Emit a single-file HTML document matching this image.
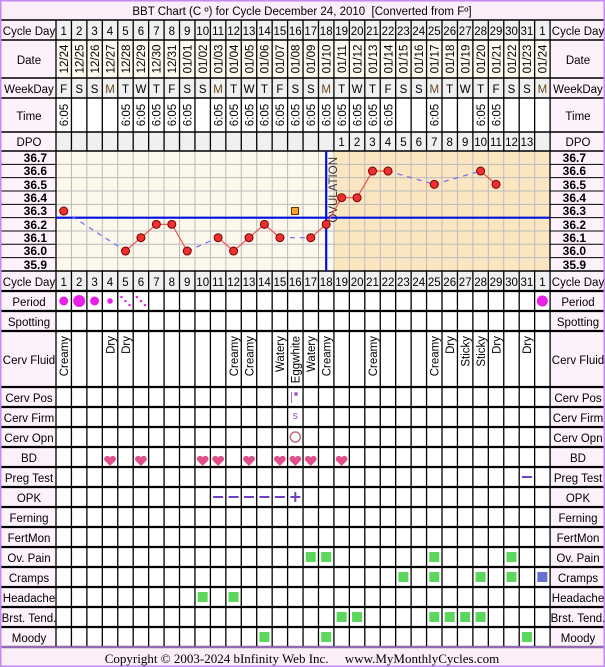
<!DOCTYPE html>
<html><head><meta charset="utf-8"><style>
html,body{margin:0;padding:0;background:#fff}
svg{display:block}
text{font-family:"Liberation Sans",sans-serif;font-size:11.5px;fill:#000}
.l{text-anchor:middle}
.v{font-size:11.5px}
.b{font-weight:bold;font-size:12px}
</style></head><body>
<svg id="s" width="605" height="667" xmlns="http://www.w3.org/2000/svg">
<rect x="0" y="0" width="605" height="667" fill="#fff"/>
<g id="bg"></g>
<g id="grid"></g>
<g id="marks"></g>
<g id="txt">
<text x="302" y="15" class="l">BBT Chart (C º) for Cycle December 24, 2010&#160;&#160;[Converted from Fº]</text>
<text x="29" y="35" class="l">Cycle Day</text>
<text x="29" y="64" class="l">Date</text>
<text x="29" y="93" class="l">WeekDay</text>
<text x="29" y="120" class="l">Time</text>
<text x="29" y="146" class="l">DPO</text>
<text x="29" y="286" class="l">Cycle Day</text>
<text x="29" y="306" class="l">Period</text>
<text x="29" y="326" class="l">Spotting</text>
<text x="29" y="364" class="l">Cerv Fluid</text>
<text x="29" y="402" class="l">Cerv Pos</text>
<text x="29" y="422" class="l">Cerv Firm</text>
<text x="29" y="442" class="l">Cerv Opn</text>
<text x="29" y="462" class="l">BD</text>
<text x="29" y="482" class="l">Preg Test</text>
<text x="29" y="502" class="l">OPK</text>
<text x="29" y="522" class="l">Ferning</text>
<text x="29" y="542" class="l">FertMon</text>
<text x="29" y="562" class="l">Ov. Pain</text>
<text x="29" y="582" class="l">Cramps</text>
<text x="29" y="602" class="l">Headache</text>
<text x="29" y="622" class="l">Brst. Tend.</text>
<text x="29" y="642" class="l">Moody</text>
<text x="578" y="35" class="l">Cycle Day</text>
<text x="578" y="64" class="l">Date</text>
<text x="578" y="93" class="l">WeekDay</text>
<text x="578" y="120" class="l">Time</text>
<text x="578" y="146" class="l">DPO</text>
<text x="578" y="286" class="l">Cycle Day</text>
<text x="578" y="306" class="l">Period</text>
<text x="578" y="326" class="l">Spotting</text>
<text x="578" y="364" class="l">Cerv Fluid</text>
<text x="578" y="402" class="l">Cerv Pos</text>
<text x="578" y="422" class="l">Cerv Firm</text>
<text x="578" y="442" class="l">Cerv Opn</text>
<text x="578" y="462" class="l">BD</text>
<text x="578" y="482" class="l">Preg Test</text>
<text x="578" y="502" class="l">OPK</text>
<text x="578" y="522" class="l">Ferning</text>
<text x="578" y="542" class="l">FertMon</text>
<text x="578" y="562" class="l">Ov. Pain</text>
<text x="578" y="582" class="l">Cramps</text>
<text x="578" y="602" class="l">Headache</text>
<text x="578" y="622" class="l">Brst. Tend.</text>
<text x="578" y="642" class="l">Moody</text>
<g>
<text x="47" y="162" text-anchor="end" class="b">36.7</text>
<text x="47" y="175" text-anchor="end" class="b">36.6</text>
<text x="47" y="189" text-anchor="end" class="b">36.5</text>
<text x="47" y="202" text-anchor="end" class="b">36.4</text>
<text x="47" y="215" text-anchor="end" class="b">36.3</text>
<text x="47" y="229" text-anchor="end" class="b">36.2</text>
<text x="47" y="242" text-anchor="end" class="b">36.1</text>
<text x="47" y="255" text-anchor="end" class="b">36.0</text>
<text x="47" y="269" text-anchor="end" class="b">35.9</text>
<text x="586" y="162" text-anchor="end" class="b">36.7</text>
<text x="586" y="175" text-anchor="end" class="b">36.6</text>
<text x="586" y="189" text-anchor="end" class="b">36.5</text>
<text x="586" y="202" text-anchor="end" class="b">36.4</text>
<text x="586" y="215" text-anchor="end" class="b">36.3</text>
<text x="586" y="229" text-anchor="end" class="b">36.2</text>
<text x="586" y="242" text-anchor="end" class="b">36.1</text>
<text x="586" y="255" text-anchor="end" class="b">36.0</text>
<text x="586" y="269" text-anchor="end" class="b">35.9</text>
</g>
<g>
<text x="63.7" y="35" class="l">1</text><text x="79.2" y="35" class="l">2</text><text x="94.6" y="35" class="l">3</text><text x="110" y="35" class="l">4</text><text x="125.5" y="35" class="l">5</text><text x="140.9" y="35" class="l">6</text><text x="156.4" y="35" class="l">7</text><text x="171.8" y="35" class="l">8</text><text x="187.2" y="35" class="l">9</text><text x="202.7" y="35" class="l">10</text><text x="218.1" y="35" class="l">11</text><text x="233.6" y="35" class="l">12</text><text x="249" y="35" class="l">13</text><text x="264.4" y="35" class="l">14</text><text x="279.9" y="35" class="l">15</text><text x="295.3" y="35" class="l">16</text><text x="310.8" y="35" class="l">17</text><text x="326.2" y="35" class="l">18</text><text x="341.6" y="35" class="l">19</text><text x="357.1" y="35" class="l">20</text><text x="372.5" y="35" class="l">21</text><text x="388" y="35" class="l">22</text><text x="403.4" y="35" class="l">23</text><text x="418.8" y="35" class="l">24</text><text x="434.3" y="35" class="l">25</text><text x="449.7" y="35" class="l">26</text><text x="465.2" y="35" class="l">27</text><text x="480.6" y="35" class="l">28</text><text x="496" y="35" class="l">29</text><text x="511.5" y="35" class="l">30</text><text x="526.9" y="35" class="l">31</text><text x="542.4" y="35" class="l">1</text>
<text x="63.7" y="286" class="l">1</text><text x="79.2" y="286" class="l">2</text><text x="94.6" y="286" class="l">3</text><text x="110" y="286" class="l">4</text><text x="125.5" y="286" class="l">5</text><text x="140.9" y="286" class="l">6</text><text x="156.4" y="286" class="l">7</text><text x="171.8" y="286" class="l">8</text><text x="187.2" y="286" class="l">9</text><text x="202.7" y="286" class="l">10</text><text x="218.1" y="286" class="l">11</text><text x="233.6" y="286" class="l">12</text><text x="249" y="286" class="l">13</text><text x="264.4" y="286" class="l">14</text><text x="279.9" y="286" class="l">15</text><text x="295.3" y="286" class="l">16</text><text x="310.8" y="286" class="l">17</text><text x="326.2" y="286" class="l">18</text><text x="341.6" y="286" class="l">19</text><text x="357.1" y="286" class="l">20</text><text x="372.5" y="286" class="l">21</text><text x="388" y="286" class="l">22</text><text x="403.4" y="286" class="l">23</text><text x="418.8" y="286" class="l">24</text><text x="434.3" y="286" class="l">25</text><text x="449.7" y="286" class="l">26</text><text x="465.2" y="286" class="l">27</text><text x="480.6" y="286" class="l">28</text><text x="496" y="286" class="l">29</text><text x="511.5" y="286" class="l">30</text><text x="526.9" y="286" class="l">31</text><text x="542.4" y="286" class="l">1</text>
<text x="63.7" y="93" class="l">F</text><text x="79.2" y="93" class="l">S</text><text x="94.6" y="93" class="l">S</text><text x="110" y="93" class="l" style="fill:#6a4a20">M</text><text x="125.5" y="93" class="l">T</text><text x="140.9" y="93" class="l">W</text><text x="156.4" y="93" class="l">T</text><text x="171.8" y="93" class="l">F</text><text x="187.2" y="93" class="l">S</text><text x="202.7" y="93" class="l">S</text><text x="218.1" y="93" class="l" style="fill:#6a4a20">M</text><text x="233.6" y="93" class="l">T</text><text x="249" y="93" class="l">W</text><text x="264.4" y="93" class="l">T</text><text x="279.9" y="93" class="l">F</text><text x="295.3" y="93" class="l">S</text><text x="310.8" y="93" class="l">S</text><text x="326.2" y="93" class="l" style="fill:#6a4a20">M</text><text x="341.6" y="93" class="l">T</text><text x="357.1" y="93" class="l">W</text><text x="372.5" y="93" class="l">T</text><text x="388" y="93" class="l">F</text><text x="403.4" y="93" class="l">S</text><text x="418.8" y="93" class="l">S</text><text x="434.3" y="93" class="l" style="fill:#6a4a20">M</text><text x="449.7" y="93" class="l">T</text><text x="465.2" y="93" class="l">W</text><text x="480.6" y="93" class="l">T</text><text x="496" y="93" class="l">F</text><text x="511.5" y="93" class="l">S</text><text x="526.9" y="93" class="l">S</text><text x="542.4" y="93" class="l" style="fill:#6a4a20">M</text>
<text x="341.6" y="146" class="l">1</text><text x="357.1" y="146" class="l">2</text><text x="372.5" y="146" class="l">3</text><text x="388" y="146" class="l">4</text><text x="403.4" y="146" class="l">5</text><text x="418.8" y="146" class="l">6</text><text x="434.3" y="146" class="l">7</text><text x="449.7" y="146" class="l">8</text><text x="465.2" y="146" class="l">9</text><text x="480.6" y="146" class="l">10</text><text x="496" y="146" class="l">11</text><text x="511.5" y="146" class="l">12</text><text x="526.9" y="146" class="l">13</text>
</g>
<g>
<text class="v" text-anchor="middle" transform="translate(68,59) rotate(-90)">12/24</text>
<text class="v" text-anchor="middle" transform="translate(83.5,59) rotate(-90)">12/25</text>
<text class="v" text-anchor="middle" transform="translate(98.9,59) rotate(-90)">12/26</text>
<text class="v" text-anchor="middle" transform="translate(114.3,59) rotate(-90)">12/27</text>
<text class="v" text-anchor="middle" transform="translate(129.8,59) rotate(-90)">12/28</text>
<text class="v" text-anchor="middle" transform="translate(145.2,59) rotate(-90)">12/29</text>
<text class="v" text-anchor="middle" transform="translate(160.7,59) rotate(-90)">12/30</text>
<text class="v" text-anchor="middle" transform="translate(176.1,59) rotate(-90)">12/31</text>
<text class="v" text-anchor="middle" transform="translate(191.5,59) rotate(-90)">01/01</text>
<text class="v" text-anchor="middle" transform="translate(207,59) rotate(-90)">01/02</text>
<text class="v" text-anchor="middle" transform="translate(222.4,59) rotate(-90)">01/03</text>
<text class="v" text-anchor="middle" transform="translate(237.9,59) rotate(-90)">01/04</text>
<text class="v" text-anchor="middle" transform="translate(253.3,59) rotate(-90)">01/05</text>
<text class="v" text-anchor="middle" transform="translate(268.7,59) rotate(-90)">01/06</text>
<text class="v" text-anchor="middle" transform="translate(284.2,59) rotate(-90)">01/07</text>
<text class="v" text-anchor="middle" transform="translate(299.6,59) rotate(-90)">01/08</text>
<text class="v" text-anchor="middle" transform="translate(315.1,59) rotate(-90)">01/09</text>
<text class="v" text-anchor="middle" transform="translate(330.5,59) rotate(-90)">01/10</text>
<text class="v" text-anchor="middle" transform="translate(345.9,59) rotate(-90)">01/11</text>
<text class="v" text-anchor="middle" transform="translate(361.4,59) rotate(-90)">01/12</text>
<text class="v" text-anchor="middle" transform="translate(376.8,59) rotate(-90)">01/13</text>
<text class="v" text-anchor="middle" transform="translate(392.3,59) rotate(-90)">01/14</text>
<text class="v" text-anchor="middle" transform="translate(407.7,59) rotate(-90)">01/15</text>
<text class="v" text-anchor="middle" transform="translate(423.1,59) rotate(-90)">01/16</text>
<text class="v" text-anchor="middle" transform="translate(438.6,59) rotate(-90)">01/17</text>
<text class="v" text-anchor="middle" transform="translate(454,59) rotate(-90)">01/18</text>
<text class="v" text-anchor="middle" transform="translate(469.5,59) rotate(-90)">01/19</text>
<text class="v" text-anchor="middle" transform="translate(484.9,59) rotate(-90)">01/20</text>
<text class="v" text-anchor="middle" transform="translate(500.3,59) rotate(-90)">01/21</text>
<text class="v" text-anchor="middle" transform="translate(515.8,59) rotate(-90)">01/22</text>
<text class="v" text-anchor="middle" transform="translate(531.2,59) rotate(-90)">01/23</text>
<text class="v" text-anchor="middle" transform="translate(546.7,59) rotate(-90)">01/24</text>
<text class="v" text-anchor="middle" transform="translate(68,115) rotate(-90)">6:05</text>
<text class="v" text-anchor="middle" transform="translate(129.8,115) rotate(-90)">6:05</text>
<text class="v" text-anchor="middle" transform="translate(145.2,115) rotate(-90)">6:05</text>
<text class="v" text-anchor="middle" transform="translate(160.7,115) rotate(-90)">6:05</text>
<text class="v" text-anchor="middle" transform="translate(176.1,115) rotate(-90)">6:05</text>
<text class="v" text-anchor="middle" transform="translate(191.5,115) rotate(-90)">6:05</text>
<text class="v" text-anchor="middle" transform="translate(222.4,115) rotate(-90)">6:05</text>
<text class="v" text-anchor="middle" transform="translate(237.9,115) rotate(-90)">6:05</text>
<text class="v" text-anchor="middle" transform="translate(253.3,115) rotate(-90)">6:05</text>
<text class="v" text-anchor="middle" transform="translate(268.7,115) rotate(-90)">6:05</text>
<text class="v" text-anchor="middle" transform="translate(284.2,115) rotate(-90)">6:05</text>
<text class="v" text-anchor="middle" transform="translate(299.6,115) rotate(-90)">6:05</text>
<text class="v" text-anchor="middle" transform="translate(315.1,115) rotate(-90)">6:05</text>
<text class="v" text-anchor="middle" transform="translate(330.5,115) rotate(-90)">6:05</text>
<text class="v" text-anchor="middle" transform="translate(345.9,115) rotate(-90)">6:05</text>
<text class="v" text-anchor="middle" transform="translate(361.4,115) rotate(-90)">6:05</text>
<text class="v" text-anchor="middle" transform="translate(376.8,115) rotate(-90)">6:05</text>
<text class="v" text-anchor="middle" transform="translate(392.3,115) rotate(-90)">6:05</text>
<text class="v" text-anchor="middle" transform="translate(438.6,115) rotate(-90)">6:05</text>
<text class="v" text-anchor="middle" transform="translate(484.9,115) rotate(-90)">6:05</text>
<text class="v" text-anchor="middle" transform="translate(500.3,115) rotate(-90)">6:05</text>
<text class="v" text-anchor="end" transform="translate(68,336) rotate(-90)">Creamy</text>
<text class="v" text-anchor="end" transform="translate(114.3,336) rotate(-90)">Dry</text>
<text class="v" text-anchor="end" transform="translate(129.8,336) rotate(-90)">Dry</text>
<text class="v" text-anchor="end" transform="translate(237.9,336) rotate(-90)">Creamy</text>
<text class="v" text-anchor="end" transform="translate(253.3,336) rotate(-90)">Creamy</text>
<text class="v" text-anchor="end" transform="translate(284.2,336) rotate(-90)">Watery</text>
<text class="v" text-anchor="end" transform="translate(299.6,336) rotate(-90)">Eggwhite</text>
<text class="v" text-anchor="end" transform="translate(315.1,336) rotate(-90)">Watery</text>
<text class="v" text-anchor="end" transform="translate(330.5,336) rotate(-90)">Creamy</text>
<text class="v" text-anchor="end" transform="translate(376.8,336) rotate(-90)">Creamy</text>
<text class="v" text-anchor="end" transform="translate(438.6,336) rotate(-90)">Creamy</text>
<text class="v" text-anchor="end" transform="translate(454,336) rotate(-90)">Dry</text>
<text class="v" text-anchor="end" transform="translate(469.5,336) rotate(-90)">Sticky</text>
<text class="v" text-anchor="end" transform="translate(484.9,336) rotate(-90)">Sticky</text>
<text class="v" text-anchor="end" transform="translate(500.3,336) rotate(-90)">Dry</text>
<text class="v" text-anchor="end" transform="translate(531.2,336) rotate(-90)">Dry</text>
</g>
<text class="v" text-anchor="end" transform="translate(337,157) rotate(-90)" style="fill:#333">OVULATION</text>
<text x="295.3" y="419" class="l" style="fill:#a060d0;font-size:11px">s</text>
<text x="302" y="663" class="l" style="font-family:'Liberation Serif',serif;font-size:13px">Copyright © 2003-2024 bInfinity Web Inc.&#160;&#160;&#160;&#160;&#160;www.MyMonthlyCycles.com</text>
</g>
</svg>
<script>
(function(){
var NS="http://www.w3.org/2000/svg";
function el(p,t,a){var e=document.createElementNS(NS,t);for(var k in a)e.setAttribute(k,a[k]);document.getElementById(p).appendChild(e);return e;}
var x0=56,cw=15.44,xr=550;
function cx(i){return x0+(i-0.5)*cw;}
function yt(t){return 157.7+(36.7-t)*133.33;}
el("bg","rect",{x:0,y:0,width:605,height:667,fill:"#fff"});
el("bg","rect",{x:1,y:1,width:603,height:19,fill:"#fbeef8"});
el("bg","rect",{x:1,y:647,width:603,height:19,fill:"#fbeef8"});
var pink="#fdf2fb";
el("bg","rect",{x:1,y:20,width:55,height:627,fill:pink});
el("bg","rect",{x:550,y:20,width:54,height:627,fill:pink});
el("bg","rect",{x:56,y:20,width:494,height:20,fill:"#f0f0f0"});
el("bg","rect",{x:56,y:40,width:494,height:38,fill:"#fdf9ee"});
el("bg","rect",{x:56,y:78,width:494,height:20,fill:"#f0f0f0"});
el("bg","rect",{x:56,y:132,width:494,height:19,fill:"#f0f0f0"});
el("bg","rect",{x:56,y:271,width:494,height:20,fill:"#f0f0f0"});
el("bg","rect",{x:56,y:151,width:278,height:120,fill:"#fdf8ec"});
el("bg","rect",{x:334,y:151,width:216,height:120,fill:"#fce6c2"});
for(var k=1;k<32;k++){var x=x0+k*cw;el("grid","line",{x1:x,y1:151,x2:x,y2:271,stroke:"#bbb","stroke-width":1});}
for(var r=1;r<9;r++){var y=151+r*13.33;el("grid","line",{x1:x0,y1:y,x2:xr,y2:y,stroke:"#bbb","stroke-width":1});
 el("grid","line",{x1:1,y1:y,x2:56,y2:y,stroke:"#000","stroke-width":1});el("grid","line",{x1:550,y1:y,x2:604,y2:y,stroke:"#000","stroke-width":1});}
var rows=[20,40,78,98,132,151,271,291,311,331,387,407,427,447,467,487,507,527,547,567,587,607,627,647];
rows.forEach(function(y){el("grid","line",{x1:1,y1:y,x2:604,y2:y,stroke:"#000","stroke-width":(y>=291?2.2:1.5)});});
for(var k=0;k<=32;k++){var x=x0+k*cw;
 el("grid","line",{x1:x,y1:20,x2:x,y2:151,stroke:"#000","stroke-width":1.3});
 el("grid","line",{x1:x,y1:271,x2:x,y2:647,stroke:"#000","stroke-width":1.3});}
el("grid","line",{x1:56,y1:151,x2:56,y2:271,stroke:"#000","stroke-width":1.3});
el("grid","line",{x1:550,y1:151,x2:550,y2:271,stroke:"#000","stroke-width":1.3});
el("grid","rect",{x:0.75,y:0.75,width:603.5,height:665.5,fill:"none",stroke:"#c58af0","stroke-width":1.5});
el("grid","line",{x1:1,y1:647,x2:604,y2:647,stroke:"#c58af0","stroke-width":1.5});
el("marks","line",{x1:56,y1:217.7,x2:550,y2:217.7,stroke:"#0010e0","stroke-width":2.2});
el("marks","line",{x1:326.2,y1:151,x2:326.2,y2:271,stroke:"#0010e0","stroke-width":2.2});
var T={1:36.3,5:36.0,6:36.1,7:36.2,8:36.2,9:36.0,11:36.1,12:36.0,13:36.1,14:36.2,15:36.1,17:36.1,18:36.2,19:36.4,20:36.4,21:36.6,22:36.6,25:36.5,28:36.6,29:36.5};
var days=Object.keys(T).map(Number).sort(function(a,b){return a-b});
for(var i=0;i<days.length-1;i++){var a=days[i],b=days[i+1];
 var o={x1:cx(a),y1:yt(T[a]),x2:cx(b),y2:yt(T[b]),stroke:(b-a==1?"#f05050":"#6a6af0"),"stroke-width":1.2};
 if(b-a>1)o["stroke-dasharray"]="5,5";el("marks","line",o);}
days.forEach(function(d){el("marks","circle",{cx:cx(d),cy:yt(T[d]),r:4,fill:"#f03030",stroke:"#700","stroke-width":1});});
el("marks","rect",{x:291.5,y:207.5,width:7,height:7,fill:"#f8a030",stroke:"#703000","stroke-width":1});
[[1,4.5],[2,6],[3,4.5],[4,2.8],[32,5.5]].forEach(function(p){el("marks","circle",{cx:cx(p[0]),cy:301,r:p[1],fill:"#e820e8"});});
[5,6].forEach(function(d){[[-4,-4],[0,0],[4,4]].forEach(function(q){el("marks","circle",{cx:cx(d)+q[0],cy:301+q[1],r:1.3,fill:"#e030e0"});});});
el("marks","line",{x1:291.5,y1:392,x2:291.5,y2:403,stroke:"#a070d0","stroke-width":1});
el("marks","circle",{cx:296,cy:394,r:2,fill:"#a070d0"});
el("marks","circle",{cx:295.3,cy:437,r:5,fill:"none",stroke:"#c07080","stroke-width":1.5});
[4,6,10,11,13,15,16,17,19].forEach(function(d){var x=cx(d),y=457;
 el("marks","path",{d:"M"+x+" "+(y+9)+" L"+(x-5.5)+" "+(y+3.5)+" A2.9 2.9 0 0 1 "+x+" "+(y+0.5)+" A2.9 2.9 0 0 1 "+(x+5.5)+" "+(y+3.5)+" Z",fill:"#e0508a"});});
el("marks","rect",{x:cx(31)-5,y:476,width:10,height:2,fill:"#7040c0"});
[11,12,13,14,15,16].forEach(function(d){el("marks","rect",{x:cx(d)-5,y:496,width:10,height:2,fill:"#7040c0"});});
el("marks","rect",{x:cx(16)-1,y:492,width:2,height:10,fill:"#7040c0"});
function sq(d,y,c){el("marks","rect",{x:cx(d)-5,y:y-5,width:10,height:10,fill:c||"#5cd65c"});}
[17,18,25,30].forEach(function(d){sq(d,557);});
[23,25,28,30].forEach(function(d){sq(d,577);});sq(32,577,"#6a70d0");
[10,12].forEach(function(d){sq(d,597);});
[19,20,25,26,27,28].forEach(function(d){sq(d,617);});
[14,18,31].forEach(function(d){sq(d,637);});
var s=document.getElementById("s");s.appendChild(document.getElementById("txt"));s.appendChild(document.getElementById("marks"));
})();
</script>
</body></html>
